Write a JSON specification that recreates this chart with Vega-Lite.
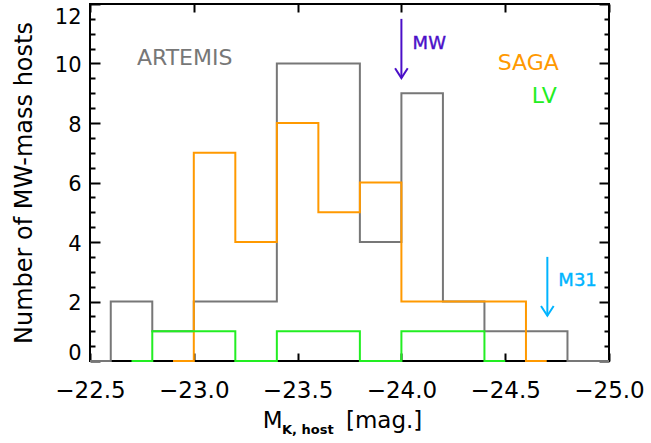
{
  "$schema": "https://vega.github.io/schema/vega-lite/v6.json",
  "width": 519,
  "height": 357,
  "autosize": {"type": "none"},
  "padding": {"left": 90, "top": 4, "right": 42, "bottom": 82},
  "background": "white",
  "config": {
    "font": "DejaVu Sans",
    "view": {"stroke": "black", "strokeWidth": 2},
    "axis": {"grid": false, "domain": false, "labelFlush": false, "labelOverlap": false}
  },
  "datasets": {
    "hist": [
      {"sample": "ARTEMIS", "i": 0, "mag": -22.5, "n": 0},
      {"sample": "ARTEMIS", "i": 1, "mag": -22.6, "n": 2},
      {"sample": "ARTEMIS", "i": 2, "mag": -22.8, "n": 1},
      {"sample": "ARTEMIS", "i": 3, "mag": -23.0, "n": 2},
      {"sample": "ARTEMIS", "i": 4, "mag": -23.2, "n": 2},
      {"sample": "ARTEMIS", "i": 5, "mag": -23.4, "n": 10},
      {"sample": "ARTEMIS", "i": 6, "mag": -23.6, "n": 10},
      {"sample": "ARTEMIS", "i": 7, "mag": -23.8, "n": 4},
      {"sample": "ARTEMIS", "i": 8, "mag": -24.0, "n": 9},
      {"sample": "ARTEMIS", "i": 9, "mag": -24.2, "n": 2},
      {"sample": "ARTEMIS", "i": 10, "mag": -24.4, "n": 1},
      {"sample": "ARTEMIS", "i": 11, "mag": -24.6, "n": 1},
      {"sample": "ARTEMIS", "i": 12, "mag": -24.8, "n": 0},
      {"sample": "ARTEMIS", "i": 13, "mag": -25.0, "n": 0},
      {"sample": "SAGA", "i": 0, "mag": -22.9, "n": 0},
      {"sample": "SAGA", "i": 1, "mag": -23.0, "n": 7},
      {"sample": "SAGA", "i": 2, "mag": -23.2, "n": 4},
      {"sample": "SAGA", "i": 3, "mag": -23.4, "n": 8},
      {"sample": "SAGA", "i": 4, "mag": -23.6, "n": 5},
      {"sample": "SAGA", "i": 5, "mag": -23.8, "n": 6},
      {"sample": "SAGA", "i": 6, "mag": -24.0, "n": 2},
      {"sample": "SAGA", "i": 7, "mag": -24.2, "n": 2},
      {"sample": "SAGA", "i": 8, "mag": -24.4, "n": 2},
      {"sample": "SAGA", "i": 9, "mag": -24.6, "n": 0},
      {"sample": "SAGA", "i": 10, "mag": -24.7, "n": 0},
      {"sample": "LV", "i": 0, "mag": -22.7, "n": 0},
      {"sample": "LV", "i": 1, "mag": -22.8, "n": 1},
      {"sample": "LV", "i": 2, "mag": -23.0, "n": 1},
      {"sample": "LV", "i": 3, "mag": -23.2, "n": 0},
      {"sample": "LV", "i": 4, "mag": -23.4, "n": 1},
      {"sample": "LV", "i": 5, "mag": -23.6, "n": 1},
      {"sample": "LV", "i": 6, "mag": -23.8, "n": 0},
      {"sample": "LV", "i": 7, "mag": -24.0, "n": 1},
      {"sample": "LV", "i": 8, "mag": -24.2, "n": 1},
      {"sample": "LV", "i": 9, "mag": -24.4, "n": 0},
      {"sample": "LV", "i": 10, "mag": -24.5, "n": 0}
    ],
    "arrows": [
      {"name": "MW", "mag": -24.0, "top": 11.5, "tip": 9.51},
      {"name": "M31", "mag": -24.703, "top": 3.5, "tip": 1.52}
    ],
    "samplelabels": [
      {"label": "ARTEMIS", "mag": -22.956, "n": 9.94},
      {"label": "SAGA", "mag": -24.611, "n": 9.78},
      {"label": "LV", "mag": -24.688, "n": 8.66}
    ],
    "arrowlabels": [
      {"label": "MW", "mag": -24.054, "n": 10.5},
      {"label": "M31", "mag": -24.756, "n": 2.53}
    ],
    "xtitle": [
      {"part": "M", "mag": -23.332, "n": -2.25},
      {"part": "[mag.]", "mag": -23.733, "n": -2.25}
    ],
    "xsub": [
      {"part": "K, host", "mag": -23.425, "n": -2.44}
    ]
  },
  "resolve": {"axis": {"x": "independent", "y": "independent"}},
  "layer": [
    {
      "data": {"name": "hist"},
      "mark": {"type": "line", "interpolate": "step-after", "strokeWidth": 2, "clip": false},
      "encoding": {
        "x": {"field": "mag", "type": "quantitative",
          "scale": {"domain": [-25, -22.5], "reverse": true, "nice": false, "zero": false},
          "axis": {"orient": "bottom", "values": [-22.5, -23, -23.5, -24, -24.5, -25], "format": ".1f", "ticks": false, "labelPadding": 18, "labelFontSize": 23, "labelColor": "black", "title": null}},
        "y": {"field": "n", "type": "quantitative",
          "scale": {"domain": [0, 12], "nice": false, "zero": false},
          "axis": {"orient": "left", "values": [0, 2, 4, 6, 8, 10, 12], "format": "d", "ticks": false, "labelPadding": 9, "labelFontSize": 21, "labelColor": "black", "labelFlush": true, "labelFlushOffset": 0, "labelOffset": 2, "title": "Number of MW-mass hosts", "titleFontSize": 24, "titleFontWeight": "normal", "titleColor": "black", "titlePadding": 18}},
        "color": {"field": "sample", "type": "nominal",
          "scale": {"domain": ["ARTEMIS", "SAGA", "LV", "MW", "M31"], "range": ["#777777", "#FF9900", "#22EE22", "#4B0FC8", "#00B4FF"]},
          "legend": null},
        "order": {"field": "i", "type": "quantitative"}
      }
    },
    {
      "data": {"name": "arrows"},
      "mark": {"type": "rule", "strokeWidth": 2},
      "encoding": {
        "x": {"field": "mag", "type": "quantitative",
          "scale": {"domain": [-25, -22.5], "reverse": true, "nice": false, "zero": false},
          "axis": {"orient": "top", "values": [-22.5, -23, -23.5, -24, -24.5, -25], "labels": false, "ticks": true, "tickSize": -8, "tickWidth": 2, "tickColor": "black", "title": null}},
        "y": {"field": "top", "type": "quantitative",
          "scale": {"domain": [0, 12], "nice": false, "zero": false},
          "axis": {"orient": "right", "values": [0, 2, 4, 6, 8, 10, 12], "labels": false, "ticks": true, "tickSize": -10, "tickWidth": 2, "tickColor": "black", "title": null}},
        "y2": {"field": "tip"},
        "color": {"field": "name", "type": "nominal",
          "scale": {"domain": ["ARTEMIS", "SAGA", "LV", "MW", "M31"], "range": ["#777777", "#FF9900", "#22EE22", "#4B0FC8", "#00B4FF"]},
          "legend": null}
      }
    },
    {
      "data": {"name": "arrows"},
      "mark": {"type": "point", "shape": "M-1,-1.55L0,0L1,-1.55", "filled": false, "size": 160, "strokeWidth": 2, "opacity": 1},
      "encoding": {
        "x": {"field": "mag", "type": "quantitative",
          "scale": {"domain": [-25, -22.5], "reverse": true, "nice": false, "zero": false},
          "axis": {"orient": "bottom", "values": [-22.5, -23, -23.5, -24, -24.5, -25], "labels": false, "ticks": true, "tickSize": -8, "tickWidth": 2, "tickColor": "black", "title": null}},
        "y": {"field": "tip", "type": "quantitative",
          "scale": {"domain": [0, 12], "nice": false, "zero": false},
          "axis": {"orient": "left", "values": [0, 2, 4, 6, 8, 10, 12], "labels": false, "ticks": true, "tickSize": -10, "tickWidth": 2, "tickColor": "black", "title": null}},
        "color": {"field": "name", "type": "nominal",
          "scale": {"domain": ["ARTEMIS", "SAGA", "LV", "MW", "M31"], "range": ["#777777", "#FF9900", "#22EE22", "#4B0FC8", "#00B4FF"]},
          "legend": null}
      }
    },
    {
      "data": {"name": "samplelabels"},
      "mark": {"type": "text", "fontSize": 22, "align": "center", "baseline": "alphabetic"},
      "encoding": {
        "text": {"field": "label"},
        "x": {"field": "mag", "type": "quantitative",
          "scale": {"domain": [-25, -22.5], "reverse": true, "nice": false, "zero": false},
          "axis": null},
        "y": {"field": "n", "type": "quantitative",
          "scale": {"domain": [0, 12], "nice": false, "zero": false},
          "axis": {"orient": "left", "values": [0.5, 1, 1.5, 2.5, 3, 3.5, 4.5, 5, 5.5, 6.5, 7, 7.5, 8.5, 9, 9.5, 10.5, 11, 11.5], "labels": false, "ticks": true, "tickSize": -5, "tickWidth": 2, "tickColor": "black", "title": null}},
        "color": {"field": "label", "type": "nominal",
          "scale": {"domain": ["ARTEMIS", "SAGA", "LV", "MW", "M31"], "range": ["#777777", "#FF9900", "#22EE22", "#4B0FC8", "#00B4FF"]},
          "legend": null}
      }
    },
    {
      "data": {"name": "arrowlabels"},
      "mark": {"type": "text", "fontSize": 18, "align": "left", "baseline": "alphabetic", "strokeWidth": 0.4},
      "encoding": {
        "text": {"field": "label"},
        "x": {"field": "mag", "type": "quantitative",
          "scale": {"domain": [-25, -22.5], "reverse": true, "nice": false, "zero": false},
          "axis": null},
        "y": {"field": "n", "type": "quantitative",
          "scale": {"domain": [0, 12], "nice": false, "zero": false},
          "axis": {"orient": "right", "values": [0.5, 1, 1.5, 2.5, 3, 3.5, 4.5, 5, 5.5, 6.5, 7, 7.5, 8.5, 9, 9.5, 10.5, 11, 11.5], "labels": false, "ticks": true, "tickSize": -5, "tickWidth": 2, "tickColor": "black", "title": null}},
        "color": {"field": "label", "type": "nominal",
          "scale": {"domain": ["ARTEMIS", "SAGA", "LV", "MW", "M31"], "range": ["#777777", "#FF9900", "#22EE22", "#4B0FC8", "#00B4FF"]},
          "legend": null},
        "stroke": {"field": "label", "type": "nominal",
          "scale": {"domain": ["ARTEMIS", "SAGA", "LV", "MW", "M31"], "range": ["#777777", "#FF9900", "#22EE22", "#4B0FC8", "#00B4FF"]},
          "legend": null}
      }
    },
    {
      "data": {"name": "xtitle"},
      "mark": {"type": "text", "fontSize": 23, "align": "left", "baseline": "alphabetic", "color": "black"},
      "encoding": {
        "text": {"field": "part"},
        "x": {"field": "mag", "type": "quantitative",
          "scale": {"domain": [-25, -22.5], "reverse": true, "nice": false, "zero": false},
          "axis": null},
        "y": {"field": "n", "type": "quantitative",
          "scale": {"domain": [0, 12], "nice": false, "zero": false},
          "axis": null}
      }
    },
    {
      "data": {"name": "xsub"},
      "mark": {"type": "text", "fontSize": 13, "fontWeight": "bold", "align": "left", "baseline": "alphabetic", "color": "black"},
      "encoding": {
        "text": {"field": "part"},
        "x": {"field": "mag", "type": "quantitative",
          "scale": {"domain": [-25, -22.5], "reverse": true, "nice": false, "zero": false},
          "axis": null},
        "y": {"field": "n", "type": "quantitative",
          "scale": {"domain": [0, 12], "nice": false, "zero": false},
          "axis": null}
      }
    }
  ]
}
